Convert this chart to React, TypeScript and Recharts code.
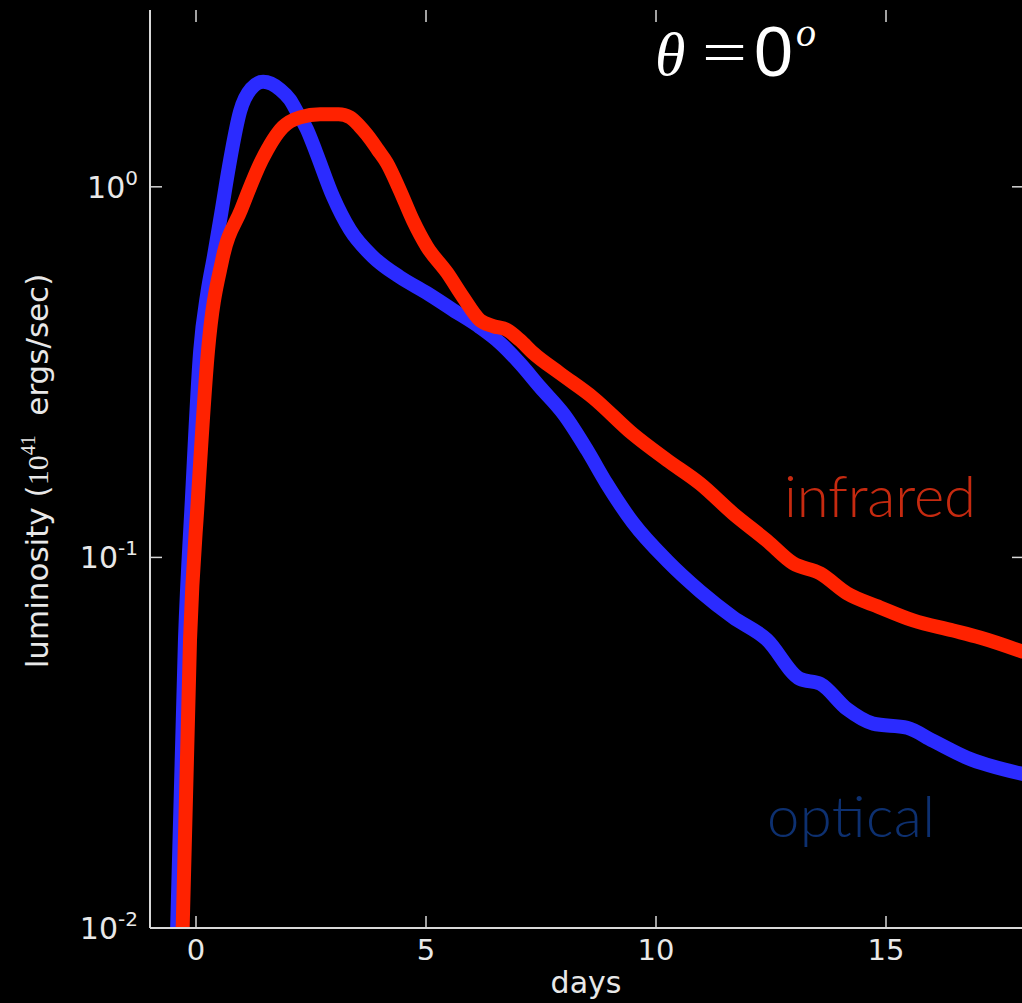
import React from "react";
import { LineChart, Line, XAxis, YAxis } from "recharts";

// days since merger vs luminosity (1e41 erg/s)
const opticalDays = [-0.41, -0.24, -0.09, 0.09, 0.25, 0.39, 0.55, 0.72, 0.96, 1.2, 1.46, 1.83, 2.04, 2.2, 2.41, 2.61, 2.98, 3.35, 3.85, 4.43, 5.02, 5.59, 6.17, 6.61, 7.04, 7.48, 8.0, 8.5, 8.93, 9.5, 10.24, 10.96, 11.67, 12.41, 13.13, 13.57, 14.15, 14.72, 15.46, 16.02, 16.76, 18.0];
const opticalLum = [0.01, 0.06, 0.143, 0.36, 0.52, 0.65, 0.85, 1.14, 1.6, 1.84, 1.92, 1.83, 1.72, 1.59, 1.43, 1.24, 0.94, 0.765, 0.647, 0.571, 0.517, 0.465, 0.418, 0.379, 0.334, 0.288, 0.243, 0.195, 0.158, 0.124, 0.098, 0.081, 0.069, 0.06, 0.047, 0.0456, 0.039, 0.0356, 0.0347, 0.032, 0.0288, 0.026];

const infraredDays = [-0.29, -0.13, 0.04, 0.26, 0.57, 0.98, 1.43, 1.89, 2.26, 2.7, 3.1, 3.35, 3.55, 3.72, 3.95, 4.15, 4.43, 4.72, 5.02, 5.46, 5.8, 6.17, 6.46, 6.76, 7.04, 7.33, 7.91, 8.63, 9.5, 10.24, 10.96, 11.67, 12.41, 12.98, 13.57, 14.15, 14.87, 15.59, 16.46, 17.04, 18.0];
const infraredLum = [0.01, 0.06, 0.143, 0.36, 0.635, 0.867, 1.18, 1.45, 1.54, 1.57, 1.57, 1.54, 1.46, 1.38, 1.26, 1.16, 0.98, 0.81, 0.69, 0.586, 0.505, 0.437, 0.421, 0.411, 0.386, 0.356, 0.314, 0.27, 0.215, 0.183, 0.158, 0.1315, 0.111, 0.0964, 0.0905, 0.08, 0.0733, 0.0676, 0.0635, 0.0608, 0.0555];

const dayTicks = [0, 5, 10, 15];
const lumTicks = [0.01, 0.1, 1];

const optical = opticalDays.map((day, i) => ({ day, lum: opticalLum[i] }));
const infrared = infraredDays.map((day, i) => ({ day, lum: infraredLum[i] }));

const BLUE = "#2b2bff";
const RED = "#ff2200";
const AXIS = "#d8d8d8";
const TEXT = "#e8e8e8";
const SANS = "'DejaVu Sans', sans-serif";
const SERIF = "'Liberation Serif', serif";
const THIN = "Lato, 'Liberation Sans', sans-serif";

// plot box (px)
const PLOT_LEFT = 150;
const PLOT_RIGHT = 1024;
const PLOT_TOP = 10;
const PLOT_BOTTOM = 928;
const TICK = 12;

function DayTick({ x, payload }: any) {
  return (
    <g>
      <line x1={x} x2={x} y1={PLOT_BOTTOM} y2={PLOT_BOTTOM - TICK} stroke={AXIS} strokeWidth={1.5} />
      <line x1={x} x2={x} y1={PLOT_TOP} y2={PLOT_TOP + TICK} stroke={AXIS} strokeWidth={1.5} />
      <text x={x} y={PLOT_BOTTOM + 32} textAnchor="middle" fill={TEXT} fontSize={29} fontFamily={SANS}>
        {payload.value}
      </text>
    </g>
  );
}

function LumTick({ y, payload }: any) {
  const exp = Math.round(Math.log10(payload.value));
  return (
    <g>
      <line x1={PLOT_LEFT} x2={PLOT_LEFT + TICK} y1={y} y2={y} stroke={AXIS} strokeWidth={1.5} />
      <line x1={PLOT_RIGHT - TICK} x2={PLOT_RIGHT} y1={y} y2={y} stroke={AXIS} strokeWidth={1.5} />
      <text x={138} y={y + 11} textAnchor="end" fill={TEXT} fontSize={30} fontFamily={SANS}>
        10
        <tspan dy={-13} fontSize={20}>{exp}</tspan>
      </text>
    </g>
  );
}

export default function App() {
  return (
    <div style={{ position: "absolute", left: 0, top: 0, width: 1022, height: 1003, background: "#000", overflow: "hidden" }}>
      <LineChart width={1024} height={1003} margin={{ top: PLOT_TOP, right: 0, bottom: 0, left: 0 }}>
        <XAxis
          dataKey="day"
          type="number"
          domain={[-1, 18]}
          ticks={dayTicks}
          allowDataOverflow
          height={75}
          axisLine={{ stroke: AXIS, strokeWidth: 2 }}
          tickLine={false}
          tick={<DayTick />}
        />
        <YAxis
          type="number"
          scale="log"
          domain={[0.01, 3]}
          ticks={lumTicks}
          allowDataOverflow
          width={150}
          axisLine={{ stroke: AXIS, strokeWidth: 2 }}
          tickLine={false}
          tick={<LumTick />}
        />
        <Line data={optical} dataKey="lum" type="monotone" stroke={BLUE} strokeWidth={14} dot={false} isAnimationActive={false} />
        <Line data={infrared} dataKey="lum" type="monotone" stroke={RED} strokeWidth={14} dot={false} isAnimationActive={false} />
      </LineChart>

      <svg width={1022} height={1003} style={{ position: "absolute", left: 0, top: 0, pointerEvents: "none" }}>
        <text x={586} y={993} textAnchor="middle" fill={TEXT} fontSize={30} fontFamily={SANS}>days</text>
        <text
          x={48}
          y={471}
          textAnchor="middle"
          fill={TEXT}
          fontSize={31}
          fontFamily={SANS}
          transform="rotate(-90 48 471)"
        >
          luminosity (
          <tspan fontFamily={SERIF} fontSize={30}>10</tspan>
          <tspan fontFamily={SERIF} fontSize={20} dy={-13}>41</tspan>
          <tspan dy={13}>{"\u00a0\u00a0ergs/sec)"}</tspan>
        </text>

        <text x={655} y={75} fill="#fff" fontSize={62} fontStyle="italic" fontFamily={SERIF}>θ</text>
        <text x={702} y={72} fill="#fff" fontSize={60} fontFamily={SERIF} textLength={45} lengthAdjust="spacingAndGlyphs">=</text>
        <text x={754} y={76} fill="#fff" fontSize={70} fontFamily="'Liberation Sans', sans-serif">0</text>
        <text x={796} y={46} fill="#fff" fontSize={40} fontStyle="italic" fontFamily={SERIF}>o</text>

        <text x={784} y={517} fill="#c62a10" fontSize={58} fontWeight={300} fontFamily={THIN} textLength={192}>infrared</text>
        <text x={767} y={837} fill="#0d3070" fontSize={58} fontWeight={300} fontFamily={THIN} textLength={168}>optical</text>
      </svg>
    </div>
  );
}
